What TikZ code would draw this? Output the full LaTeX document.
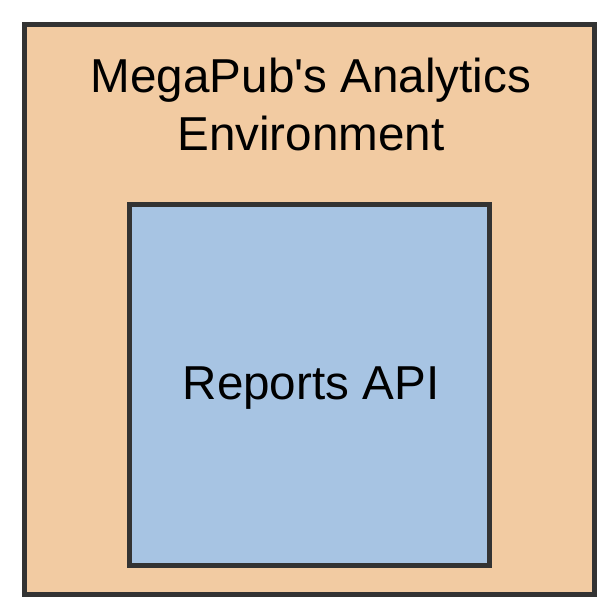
\documentclass[tikz,border=0pt]{standalone}
\usepackage{fontspec}
\setmainfont{Liberation Sans}
\definecolor{envfill}{HTML}{F2CBA2}
\definecolor{apifill}{HTML}{A7C4E3}
\definecolor{edge}{HTML}{333333}
\tikzset{
  boxstyle/.style={draw=edge, line width=5pt, rectangle, inner sep=0pt, outer sep=0pt},
  labelstyle/.style={font=\fontsize{47.6}{57.7}\selectfont, text=black, inner sep=0pt, align=center}
}
\begin{document}
\begin{tikzpicture}[x=1pt,y=-1pt]
\useasboundingbox (0,0) rectangle (614,616);
\node[boxstyle, fill=envfill, minimum width=570.3pt, minimum height=569.7pt] (env) at (309.65,309.35) {};
\node[boxstyle, fill=apifill, minimum width=360pt, minimum height=360.5pt] (api) at (309,384.75) {};
\node[labelstyle, anchor=base] (envlabel) at (311,150) {MegaPub\textquotesingle s Analytics\\Environment};
\node[labelstyle, anchor=base] (apilabel) at (311,399.3) {Reports API};
\end{tikzpicture}
\end{document}
